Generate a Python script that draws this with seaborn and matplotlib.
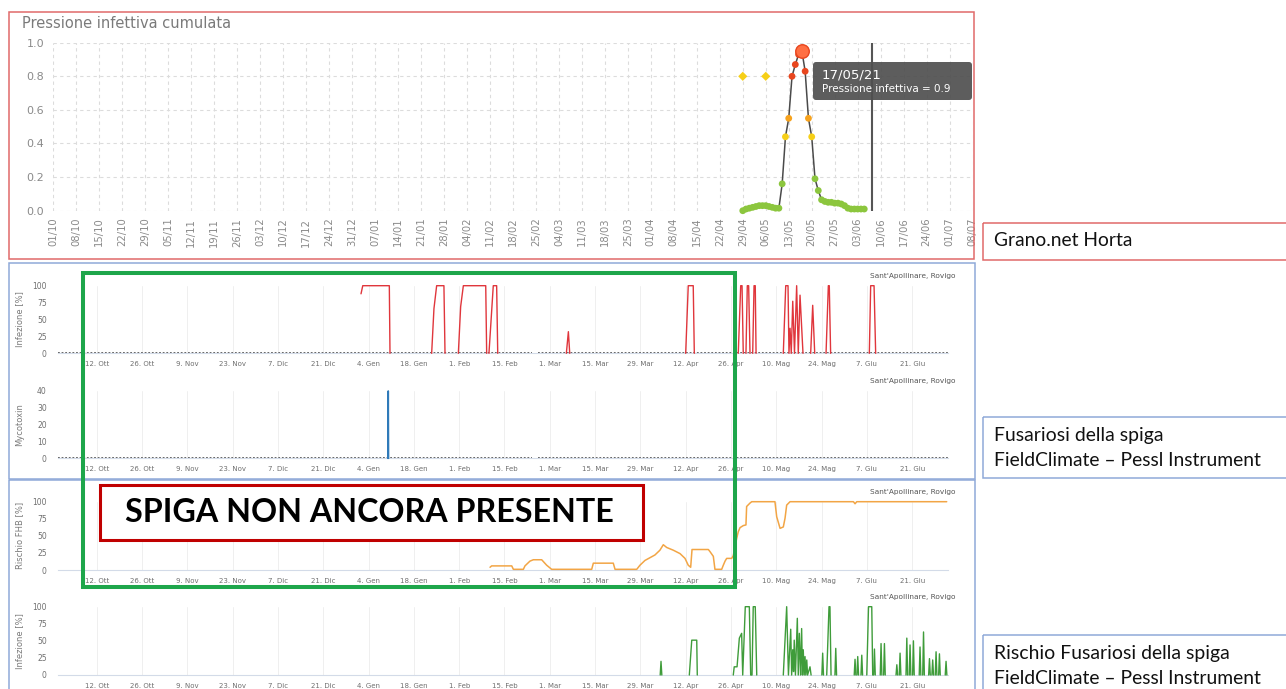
import numpy as np
import pandas as pd
import matplotlib
matplotlib.use("Agg")
import matplotlib.pyplot as plt
from matplotlib.patches import Rectangle, FancyBboxPatch
import seaborn as sns

W, H = 1286, 689

# ---------------- DATA ----------------
# Top chart (Grano.net Horta) - cumulative infective pressure
top_dates = ["2021-04-29", "2021-04-30", "2021-05-01", "2021-05-02", "2021-05-03", "2021-05-04",
             "2021-05-05", "2021-05-06", "2021-05-07", "2021-05-08", "2021-05-09", "2021-05-10",
             "2021-05-11", "2021-05-12", "2021-05-13", "2021-05-14", "2021-05-15", "2021-05-16",
             "2021-05-17", "2021-05-18", "2021-05-19", "2021-05-20", "2021-05-21", "2021-05-22",
             "2021-05-23", "2021-05-24", "2021-05-25", "2021-05-26", "2021-05-27", "2021-05-28",
             "2021-05-29", "2021-05-30", "2021-05-31", "2021-06-01", "2021-06-02", "2021-06-03",
             "2021-06-04", "2021-06-05"]
top_values = [0.0, 0.01, 0.015, 0.02, 0.025, 0.03, 0.03, 0.03, 0.025, 0.02, 0.015, 0.015,
              0.16, 0.44, 0.55, 0.80, 0.87, 0.93, 0.95, 0.83, 0.55, 0.44, 0.19, 0.12,
              0.065, 0.055, 0.05, 0.05, 0.045, 0.045, 0.04, 0.03, 0.015, 0.01, 0.01, 0.01,
              0.01, 0.01]
diamond_dates = ["2021-04-29", "2021-05-06"]
diamond_values = [0.8, 0.8]
today_date = "2021-06-07 07:00"
tooltip_date = "17/05/21"
tooltip_value = 0.9
top_tick_labels = ["01/10", "08/10", "15/10", "22/10", "29/10", "05/11", "12/11", "19/11", "26/11",
                   "03/12", "10/12", "17/12", "24/12", "31/12", "07/01", "14/01", "21/01", "28/01",
                   "04/02", "11/02", "18/02", "25/02", "04/03", "11/03", "18/03", "25/03", "01/04",
                   "08/04", "15/04", "22/04", "29/04", "06/05", "13/05", "20/05", "27/05", "03/06",
                   "10/06", "17/06", "24/06", "01/07", "08/07"]
top_yticks = [0.0, 0.2, 0.4, 0.6, 0.8, 1.0]

# FieldClimate charts
sub_tick_dates = ["2020-10-12", "2020-10-26", "2020-11-09", "2020-11-23", "2020-12-07", "2020-12-21",
                  "2021-01-04", "2021-01-18", "2021-02-01", "2021-02-15", "2021-03-01", "2021-03-15",
                  "2021-03-29", "2021-04-12", "2021-04-26", "2021-05-10", "2021-05-24", "2021-06-07",
                  "2021-06-21"]
sub_tick_labels = ["12. Ott", "26. Ott", "9. Nov", "23. Nov", "7. Dic", "21. Dic", "4. Gen", "18. Gen",
                   "1. Feb", "15. Feb", "1. Mar", "15. Mar", "29. Mar", "12. Apr", "26. Apr", "10. Mag",
                   "24. Mag", "7. Giu", "21. Giu"]

# Infezione [%] (red) - None separates drawn pieces
red_t = ["2021-01-01 16:00", "2021-01-02 05:00", "2021-01-10 10:00", "2021-01-10 15:00", None,
         "2021-01-23 12:00", "2021-01-24 05:00", "2021-01-25 01:00", "2021-01-27 07:00", "2021-01-27 15:00", None,
         "2021-01-31 18:00", "2021-02-01 11:00", "2021-02-02 07:00", "2021-02-09 05:00", "2021-02-09 12:00", None,
         "2021-02-10 05:00", "2021-02-11 13:00", "2021-02-12 14:00", "2021-02-12 22:00", None,
         "2021-03-06 03:00", "2021-03-06 18:00", "2021-03-07 04:00", None,
         "2021-04-12 00:00", "2021-04-12 19:00", "2021-04-14 08:00", "2021-04-14 16:00", None,
         "2021-04-28 06:00", "2021-04-29 00:00", "2021-04-29 10:00", "2021-04-29 19:00", None,
         "2021-04-30 15:00", "2021-05-01 01:00", "2021-05-01 11:00", "2021-05-01 21:00", None,
         "2021-05-02 17:00", "2021-05-03 03:00", "2021-05-03 12:00", "2021-05-03 18:00", None,
         "2021-05-12 04:00", "2021-05-12 22:00", "2021-05-13 15:00", "2021-05-13 22:00", "2021-05-14 06:00",
         "2021-05-14 15:00", "2021-05-15 02:00", "2021-05-15 15:00", "2021-05-16 07:00", "2021-05-16 19:00",
         "2021-05-17 08:00", "2021-05-18 06:00", None,
         "2021-05-20 15:00", "2021-05-21 06:00", "2021-05-21 21:00", None,
         "2021-05-25 09:00", "2021-05-26 02:00", "2021-05-26 09:00", "2021-05-26 19:00", None,
         "2021-06-07 18:00", "2021-06-08 04:00", "2021-06-09 05:00", "2021-06-09 17:00"]
red_v = [88, 100, 100, 0, None,
         0, 66, 100, 100, 0, None,
         0, 69, 100, 100, 0, None,
         0, 100, 100, 0, None,
         0, 32, 0, None,
         0, 100, 100, 0, None,
         0, 100, 100, 0, None,
         0, 100, 100, 0, None,
         0, 100, 100, 0, None,
         0, 100, 100, 0, 37, 0, 77, 0, 100, 0, 86, 0, None,
         0, 71, 0, None,
         0, 100, 100, 0, None,
         0, 100, 100, 0]

# dotted zero baseline of the FieldClimate series (with a data gap)
base_t = ["2020-09-30 00:00", "2021-02-23 10:00", None, "2021-02-25 11:00", "2021-07-01 23:00"]
base_v = [0, 0, None, 0, 0]

# Mycotoxin (blue)
blue_t = ["2021-01-10 00:00", "2021-01-10 02:00", "2021-01-10 04:00"]
blue_v = [0, 40, 0]

# Rischio FHB [%] (orange)
orange_t = ["2021-02-10 13:00", "2021-02-11 01:00", "2021-02-17 06:00", "2021-02-17 18:00", "2021-02-20 20:00",
            "2021-02-21 08:00", "2021-02-22 21:00", "2021-02-23 22:00", "2021-02-26 12:00", "2021-02-28 01:00",
            "2021-03-01 14:00", "2021-03-13 23:00", "2021-03-14 11:00", "2021-03-20 15:00", "2021-03-21 04:00",
            "2021-03-27 21:00", "2021-03-28 21:00", "2021-03-30 10:00", "2021-03-31 23:00", "2021-04-02 12:00",
            "2021-04-04 01:00", "2021-04-05 02:00", "2021-04-06 03:00", "2021-04-08 04:00", "2021-04-10 06:00",
            "2021-04-11 19:00", "2021-04-12 19:00", "2021-04-13 13:00", "2021-04-13 23:00", "2021-04-19 00:00",
            "2021-04-19 12:00", "2021-04-20 13:00", "2021-04-21 01:00", "2021-04-23 03:00", "2021-04-23 15:00",
            "2021-04-24 04:00", "2021-04-24 16:00", "2021-04-26 05:00", "2021-04-26 17:00", "2021-04-27 18:00",
            "2021-04-28 06:00", "2021-04-28 19:00", "2021-04-29 19:00", "2021-04-30 15:00", "2021-04-30 20:00",
            "2021-05-01 21:00", "2021-05-02 10:00", "2021-05-09 14:00", "2021-05-10 03:00", "2021-05-11 04:00",
            "2021-05-12 04:00", "2021-05-12 17:00", "2021-05-13 05:00", "2021-05-14 06:00", "2021-06-02 20:00",
            "2021-06-03 08:00", "2021-06-03 21:00", "2021-07-01 16:00"]
orange_v = [4, 6, 6, 1, 1,
            6, 13, 15, 15, 7,
            1, 1, 10, 10, 1,
            1, 7, 14, 18, 22,
            29, 37, 33, 29, 24,
            17, 7, 4, 30, 30,
            27, 20, 1, 1, 7,
            13, 17, 17, 21, 46,
            56, 62, 65, 66, 93,
            98, 100, 100, 78, 61,
            63, 76, 95, 100, 100,
            97, 100, 100]

# Infezione [%] (green) - wider episodes
green_t = ["2021-04-13 03:00", "2021-04-13 21:00", "2021-04-15 10:00", "2021-04-15 14:00", None,
           "2021-04-26 17:00", "2021-04-27 00:00", "2021-04-27 21:00", "2021-04-28 14:00", "2021-04-29 07:00",
           "2021-04-29 15:00", "2021-04-30 10:00", "2021-05-01 16:00", "2021-05-02 02:00", "2021-05-02 12:00",
           "2021-05-02 21:00", "2021-05-03 12:00", "2021-05-03 23:00", None,
           "2021-05-12 04:00", "2021-05-13 05:00", "2021-05-13 18:00", "2021-05-14 11:00", "2021-05-14 18:00",
           "2021-05-15 02:00", "2021-05-15 08:00", "2021-05-15 13:00", "2021-05-15 22:00", "2021-05-16 12:00",
           "2021-05-16 19:00", "2021-05-17 03:00", "2021-05-17 12:00", "2021-05-17 20:00", "2021-05-18 02:00",
           "2021-05-18 08:00", "2021-05-18 15:00", "2021-05-18 21:00", "2021-05-19 03:00", "2021-05-19 10:00",
           "2021-05-19 16:00", "2021-05-20 10:00", "2021-05-20 18:00", None,
           "2021-05-25 14:00", "2021-05-26 07:00", "2021-05-26 14:00", "2021-05-26 22:00", None,
           "2021-06-06 23:00", "2021-06-07 12:00", "2021-06-08 12:00", "2021-06-08 19:00"]
green_v = [0, 51, 51, 0, None,
           0, 12, 12, 54, 61,
           0, 100, 100, 0, 0,
           100, 100, 0, None,
           0, 100, 0, 67, 0,
           37, 5, 51, 0, 83,
           0, 61, 0, 68, 0,
           37, 0, 27, 0, 22,
           0, 12, 0, None,
           0, 100, 100, 0, None,
           0, 100, 100, 0]
# Infezione [%] (green) - narrow spikes (peak time, peak value)
green_spike_t = ["2021-04-04 09:00", "2021-05-24 08:00", "2021-05-28 09:00", "2021-06-03 08:00",
                 "2021-06-04 04:00", "2021-06-05 10:00", "2021-06-09 08:00", "2021-06-11 09:00",
                 "2021-06-12 10:00", "2021-06-16 06:00", "2021-06-17 06:00", "2021-06-19 08:00",
                 "2021-06-20 08:00", "2021-06-21 09:00", "2021-06-23 10:00", "2021-06-24 12:00",
                 "2021-06-26 08:00", "2021-06-27 08:00", "2021-06-28 09:00", "2021-06-29 10:00",
                 "2021-07-01 11:00"]
green_spike_v = [20, 32, 39, 23, 27, 29, 38, 46, 46, 15, 32, 54, 44, 50, 41, 63, 24, 22, 34, 31, 20]

# ---------------- STYLE / HELPERS ----------------
sns.set_style("white")
plt.rcParams["font.family"] = ["DejaVu Sans"]

fig = plt.figure(figsize=(W / 100, H / 100), dpi=100)
fig.patch.set_facecolor("white")


def px_axes(l, t, r, b, z=1):
    return fig.add_axes([l / W, 1 - b / H, (r - l) / W, (b - t) / H], zorder=z)


def seg_frame(times, values):
    df = pd.DataFrame({"t": times, "v": values})
    df["seg"] = df["t"].isna().cumsum()
    df = df.dropna().copy()
    df["t"] = pd.to_datetime(df["t"])
    df["v"] = df["v"].astype(float)
    return df


def fig_text(x, y, s, **kw):
    return fig.text(x / W, 1 - y / H, s, **kw)


# ---------------- TOP CHART ----------------
ax = px_axes(53.3, 42.7, 972.6, 210.7)
ax.set_facecolor("none")
top_tick_pos = [pd.Timestamp(f"{2020 if int(s[3:]) >= 10 else 2021}-{s[3:]}-{s[:2]}") for s in top_tick_labels]
ax.set_xlim(top_tick_pos[0], top_tick_pos[-1])
ax.set_ylim(0, 1)
ax.set_xticks(top_tick_pos)
ax.set_xticklabels(top_tick_labels, rotation=90, fontsize=7.2, color="#8a8a8a")
ax.set_yticks(top_yticks)
ax.set_yticklabels([f"{v:.1f}" for v in top_yticks], fontsize=8, color="#8a8a8a")
ax.tick_params(axis="x", length=0, pad=5)
ax.tick_params(axis="y", length=0, pad=6.5)
ax.grid(True, color="#dcdcdc", linestyle=(0, (3, 3)), linewidth=0.8)
for sp in ax.spines.values():
    sp.set_visible(False)

df_top = pd.DataFrame({"date": pd.to_datetime(top_dates), "value": top_values})
df_top["level"] = pd.cut(df_top["value"], [-1, 0.3, 0.5, 0.7, 2], labels=["g", "y", "o", "r"])
level_pal = {"g": "#8cc63e", "y": "#f6cf17", "o": "#f6a21d", "r": "#e8461e"}
sns.lineplot(data=df_top, x="date", y="value", color="#4a4a4a", lw=1.1, ax=ax, zorder=2)
sns.scatterplot(data=df_top, x="date", y="value", hue="level", palette=level_pal, s=24,
                edgecolor="none", legend=False, ax=ax, zorder=3, clip_on=False)
pk = df_top.loc[df_top["value"].idxmax()]
sns.scatterplot(x=[pk["date"]], y=[pk["value"]], s=95, color="#ff6f43", edgecolor="#e8461e",
                linewidth=1.0, ax=ax, zorder=4, clip_on=False)
sns.scatterplot(x=pd.to_datetime(diamond_dates), y=diamond_values, marker="D", s=22,
                color="#f6cf17", edgecolor="none", ax=ax, zorder=3)
ax.axvline(pd.Timestamp(today_date), color="#555555", lw=1.5, zorder=2)
ax.set_xlabel("")
ax.set_ylabel("")

fig_text(22, 23, "Pressione infettiva cumulata", fontsize=10.5, color="#7a7a7a", va="center", ha="left")

# ---------------- FIELDCLIMATE CHARTS ----------------
xs0, xs1 = pd.Timestamp("2020-09-30"), pd.Timestamp("2021-07-02")
sub_ticks = pd.to_datetime(sub_tick_dates)
SUB_L, SUB_R = 57.9, 947.8


def sub_chart(top, bottom, ymax, yticks):
    a = px_axes(SUB_L, top, SUB_R, bottom)
    a.set_facecolor("none")
    a.set_xlim(xs0, xs1)
    a.set_ylim(0, ymax)
    a.set_xticks(sub_ticks)
    a.set_xticklabels(sub_tick_labels, fontsize=5, color="#6f6f6f")
    a.set_yticks(yticks)
    a.set_yticklabels([str(v) for v in yticks], fontsize=5.5, color="#6f6f6f")
    a.tick_params(axis="x", length=0, pad=5.5)
    a.tick_params(axis="y", length=0, pad=8)
    a.grid(axis="x", color="#efefef", lw=0.7)
    for k, sp in a.spines.items():
        sp.set_visible(k == "bottom")
    a.spines["bottom"].set_color("#d3dbe8")
    a.spines["bottom"].set_linewidth(0.8)
    fig_text(955, top - 10, "Sant'Apollinare, Rovigo", fontsize=5.3, color="#555555",
             ha="right", va="center")
    return a


def finish(a, ylabel):
    a.set_xlabel("")
    a.set_ylabel(ylabel, fontsize=6, color="#7a7a7a")
    a.yaxis.set_label_coords((24 - SUB_L) / (SUB_R - SUB_L), 0.5)


# Chart A: Infezione (red)
axA = sub_chart(285.7, 353.3, 100, [0, 25, 50, 75, 100])
sns.lineplot(data=seg_frame(base_t, base_v), x="t", y="v", units="seg", estimator=None, sort=False,
             color="#555555", lw=1.3, linestyle=(0, (1, 1)), ax=axA, zorder=2)
sns.lineplot(data=seg_frame(red_t, red_v), x="t", y="v", units="seg", estimator=None, sort=False,
             color="#e0363c", lw=1.0, ax=axA, zorder=3, clip_on=False)
finish(axA, "Infezione [%]")

# Chart B: Mycotoxin (blue)
axB = sub_chart(391, 458.3, 40, [0, 10, 20, 30, 40])
sns.lineplot(data=seg_frame(base_t, base_v), x="t", y="v", units="seg", estimator=None, sort=False,
             color="#555555", lw=1.3, linestyle=(0, (1, 1)), ax=axB, zorder=2)
sns.lineplot(data=seg_frame(blue_t, blue_v), x="t", y="v", units="seg", estimator=None, sort=False,
             color="#2f7ab9", lw=1.2, ax=axB, zorder=3, clip_on=False)
finish(axB, "Mycotoxin")

# Chart C: Rischio FHB (orange)
axC = sub_chart(501.7, 570, 100, [0, 25, 50, 75, 100])
sns.lineplot(data=seg_frame(orange_t, orange_v), x="t", y="v", units="seg", estimator=None, sort=False,
             color="#f2a545", lw=1.1, ax=axC, zorder=3, clip_on=False)
finish(axC, "Rischio FHB [%]")

# Chart D: Infezione (green)
axD = sub_chart(606.7, 675, 100, [0, 25, 50, 75, 100])
half_w = pd.Timedelta(hours=6)
sp_t, sp_v = [], []
for t, v in zip(green_spike_t, green_spike_v):
    tt = pd.Timestamp(t)
    sp_t += [str(tt - half_w), str(tt), str(tt + half_w), None]
    sp_v += [0, v, 0, None]
df_green = pd.concat([seg_frame(green_t, green_v),
                      seg_frame(sp_t, sp_v).assign(seg=lambda d: d["seg"] + 1000)])
sns.lineplot(data=df_green, x="t", y="v", units="seg", estimator=None, sort=False,
             color="#3f9c3a", lw=1.0, ax=axD, zorder=3, clip_on=False)
finish(axD, "Infezione [%]")

# ---------------- OVERLAY: frames, boxes, annotations ----------------
ov = fig.add_axes([0, 0, 1, 1], zorder=20)
ov.set_xlim(0, W)
ov.set_ylim(H, 0)
ov.axis("off")
ov.patch.set_alpha(0)

# panel frames
ov.add_patch(Rectangle((9, 12), 965, 247, fill=False, ec="#e06a6a", lw=1.1))
ov.add_patch(Rectangle((9, 263), 966, 216, fill=False, ec="#8fa9d8", lw=1.1))
ov.add_patch(Rectangle((9, 480), 966, 230, fill=False, ec="#8fa9d8", lw=1.1))
ov.add_patch(Rectangle((983, 223), 320, 37, fill=False, ec="#e06a6a", lw=1.1))
ov.add_patch(Rectangle((983, 417), 320, 61, fill=False, ec="#8fa9d8", lw=1.1))
ov.add_patch(Rectangle((983, 635), 320, 80, fill=False, ec="#8fa9d8", lw=1.1))

# tooltip
ov.add_patch(FancyBboxPatch((813, 62), 159, 38, boxstyle="round,pad=0,rounding_size=3",
                            fc="#4f4f4f", ec="none", alpha=0.92))
ov.text(822, 74.5, tooltip_date, fontsize=9.5, color="white", va="center", ha="left")
ov.text(822, 89.5, f"Pressione infettiva = {tooltip_value}", fontsize=7.5, color="white",
        va="center", ha="left")

# green highlight frame
ov.add_patch(Rectangle((83, 273), 652, 314, fill=False, ec="#1ea64b", lw=2.9))
# red label box
ov.add_patch(Rectangle((100, 485), 543, 55, fc="white", ec="#c00000", lw=2.2))

fig.canvas.draw()
renderer = fig.canvas.get_renderer()


def fit_text(x, y, s, target_w, size, **kw):
    t = ov.text(x, y, s, fontsize=size, **kw)
    w = t.get_window_extent(renderer).width
    t.set_fontsize(size * target_w / w)
    return t


fit_text(369, 513, "SPIGA NON ANCORA PRESENTE", 488, 24, family="Lato", weight="bold",
         color="black", ha="center", va="center")

fit_text(994, 241, "Grano.net Horta", 138, 12, family="Lato", color="#111111", ha="left", va="center")
fit_text(994, 435, "Fusariosi della spiga", 169, 12, family="Lato", color="#111111", ha="left", va="center")
fit_text(994, 460, "FieldClimate \u2013 Pessl Instrument", 266, 12, family="Lato", color="#111111",
         ha="left", va="center")
fit_text(994, 653, "Rischio Fusariosi della spiga", 234, 12, family="Lato", color="#111111",
         ha="left", va="center")
fit_text(994, 678, "FieldClimate \u2013 Pessl Instrument", 266, 12, family="Lato", color="#111111",
         ha="left", va="center")

fig.savefig("out.png", dpi=100, facecolor="white")
